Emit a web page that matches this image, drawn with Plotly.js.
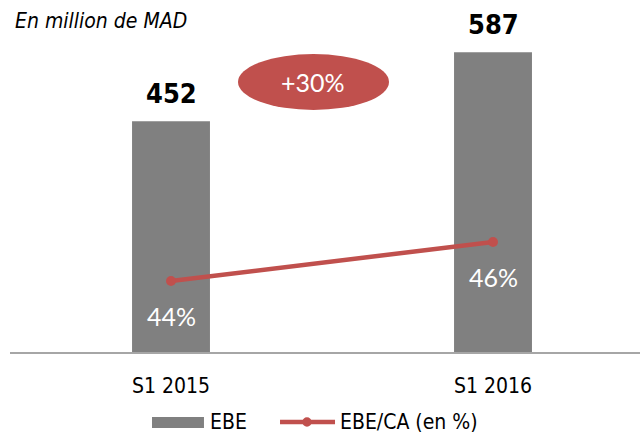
<!DOCTYPE html>
<html>
<head>
<meta charset="utf-8">
<script src="https://cdn.plot.ly/plotly-3.0.1.min.js"></script>
<style>
  html, body { margin: 0; padding: 0; background: #fff; }
  #chart { width: 640px; height: 435px; }
</style>
</head>
<body>
<div id="chart"></div>
<script>
// EBE (millions MAD) and EBE/CA ratio per half-year
const periods = ["S1 2015", "S1 2016"];
const ebe = [452, 587];
const ebeRatio = [44, 46];
const growthLabel = "+30%";
const seriesNames = ["EBE", "EBE/CA (en %)"];

const LABEL_FONT = "DejaVu Sans Condensed, DejaVu Sans, sans-serif";
const PCT_FONT = "Lato, Open Sans, sans-serif";
const BAR_GRAY = "#808080";
const RED = "#C0504D";

const traces = [
  {
    type: "bar",
    name: seriesNames[0],
    x: periods,
    y: ebe,
    width: 0.242,
    marker: { color: BAR_GRAY },
    hoverinfo: "skip"
  },
  {
    type: "scatter",
    mode: "lines+markers",
    name: seriesNames[1],
    x: periods,
    y: ebeRatio,
    yaxis: "y2",
    line: { color: RED, width: 4.5 },
    marker: { color: RED, size: 10 },
    hoverinfo: "skip"
  }
];

// Value labels above bars and ratio labels below line points
const annotations = [];
periods.forEach((p, i) => {
  annotations.push({
    x: p, y: ebe[i], xref: "x", yref: "y",
    text: String(ebe[i]), showarrow: false,
    yanchor: "middle", yshift: 28,
    font: { family: LABEL_FONT, size: 27, color: "#000", weight: "bold" }
  });
  annotations.push({
    x: p, y: ebeRatio[i], xref: "x", yref: "y2",
    text: ebeRatio[i] + "%", showarrow: false,
    yanchor: "middle", yshift: -35,
    font: { family: PCT_FONT, size: 25, color: "#fff" }
  });
});
annotations.push({
  x: 0.481, y: 0.813, xref: "paper", yref: "paper",
  text: growthLabel, showarrow: false,
  xanchor: "center", yanchor: "middle",
  font: { family: PCT_FONT, size: 25, color: "#fff" }
});

// Legend row below the axis: swatches drawn as shapes, names as annotations
const legendY = -0.2108;
annotations.push({
  x: 0.3143, y: legendY, xref: "paper", yref: "paper",
  text: seriesNames[0], showarrow: false,
  xanchor: "left", yanchor: "middle",
  font: { family: LABEL_FONT, size: 21, color: "#000" }
});
annotations.push({
  x: 0.5206, y: legendY, xref: "paper", yref: "paper",
  text: seriesNames[1], showarrow: false,
  xanchor: "left", yanchor: "middle",
  font: { family: LABEL_FONT, size: 21, color: "#000" }
});

const shapes = [
  {
    type: "circle", xref: "paper", yref: "paper",
    x0: 0.3619, x1: 0.6016, y0: 0.7289, y1: 0.8976,
    fillcolor: RED, line: { width: 0 }, layer: "above"
  },
  {
    type: "rect", xref: "paper", yref: "paper",
    x0: 0.2254, x1: 0.3079, y0: -0.2289, y1: -0.1958,
    fillcolor: BAR_GRAY, line: { width: 0 }
  },
  {
    type: "line", xref: "paper", yref: "paper",
    x0: 0.4286, x1: 0.5159, y0: legendY, y1: legendY,
    line: { color: RED, width: 4.5 }
  },
  {
    type: "circle", xref: "paper", yref: "paper",
    x0: 0.4714 - 0.0075, x1: 0.4714 + 0.0075,
    y0: legendY - 0.0142, y1: legendY + 0.0142,
    fillcolor: RED, line: { width: 0 }
  }
];

const layout = {
  width: 640,
  height: 435,
  margin: { l: 10, r: 0, t: 20, b: 83 },
  paper_bgcolor: "#fff",
  plot_bgcolor: "#fff",
  showlegend: false,
  title: {
    text: "En million de MAD",
    x: 15 / 640, xref: "container", xanchor: "left",
    y: 1 - 21 / 435, yref: "container", yanchor: "middle",
    font: { family: LABEL_FONT, size: 21, color: "#000", style: "italic" }
  },
  xaxis: {
    type: "category",
    range: [-0.5, 1.4565],
    showline: true,
    linecolor: "#A6A6A6",
    linewidth: 2,
    ticks: "",
    showgrid: false,
    zeroline: false,
    ticklabelstandoff: 14,
    tickfont: { family: LABEL_FONT, size: 21, color: "#000" },
    fixedrange: true
  },
  yaxis: {
    range: [0, 650],
    visible: false,
    showgrid: false,
    zeroline: false,
    fixedrange: true
  },
  yaxis2: {
    range: [40.36, 57.38],
    overlaying: "y",
    side: "right",
    visible: false,
    showgrid: false,
    zeroline: false,
    fixedrange: true
  },
  shapes: shapes,
  annotations: annotations
};

Plotly.newPlot("chart", traces, layout, { displayModeBar: false, staticPlot: true });
</script>
</body>
</html>
